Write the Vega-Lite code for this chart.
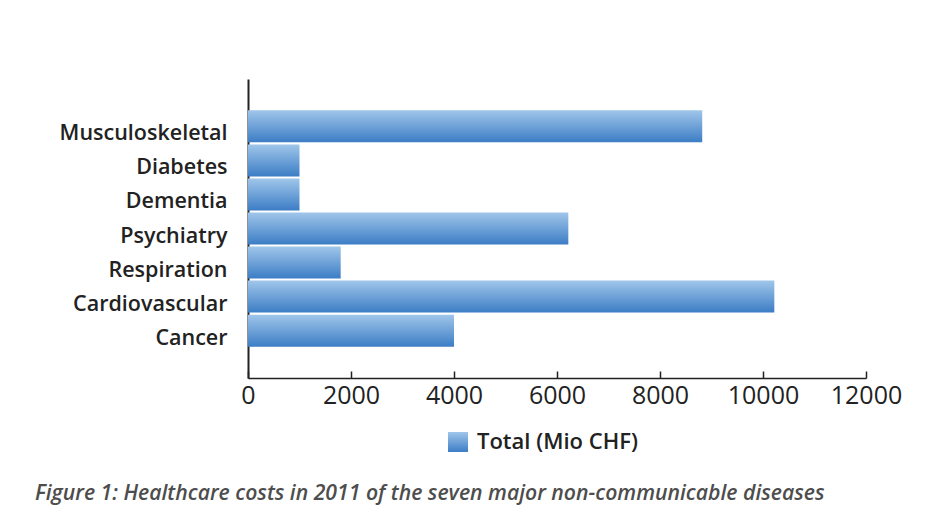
{
  "$schema": "https://vega.github.io/schema/vega-lite/v6.json",
  "autosize": {"type": "none"},
  "width": 618,
  "height": 299,
  "padding": {"left": 248, "top": 79, "right": 67, "bottom": 144},
  "background": "white",
  "data": {
    "values": [
      {"disease": "Musculoskeletal", "cost": 8820},
      {"disease": "Diabetes", "cost": 1000},
      {"disease": "Dementia", "cost": 1000},
      {"disease": "Psychiatry", "cost": 6220},
      {"disease": "Respiration", "cost": 1800},
      {"disease": "Cardiovascular", "cost": 10220},
      {"disease": "Cancer", "cost": 4000}
    ]
  },
  "mark": {
    "type": "bar",
    "strokeWidth": 0,
    "color": {"gradient": "linear", "x1": 0, "y1": 0, "x2": 0, "y2": 1,
      "stops": [{"offset": 0, "color": "#a0c6ea"}, {"offset": 1, "color": "#3c7dc5"}]}
  },
  "encoding": {
    "y": {
      "field": "disease",
      "type": "nominal",
      "sort": null,
      "scale": {"paddingInner": 0.06, "paddingOuter": 0.92},
      "axis": {
        "title": null,
        "ticks": false,
        "labelPadding": 21,
        "labelOffset": 8,
        "labelFont": "Open Sans",
        "labelFontWeight": 600,
        "labelFontSize": 21.5,
        "labelColor": "#222222",
        "domainColor": "#222222",
        "domainWidth": 2
      }
    },
    "x": {
      "field": "cost",
      "type": "quantitative",
      "scale": {"domain": [0, 12000], "nice": false},
      "axis": {
        "title": null,
        "values": [0, 2000, 4000, 6000, 8000, 10000, 12000],
        "format": "d",
        "grid": false,
        "tickSize": -7,
        "tickColor": "#222222",
        "tickWidth": 1.5,
        "domainColor": "#222222",
        "domainWidth": 1.5,
        "labelPadding": 12,
        "labelFont": "Open Sans",
        "labelFontSize": 25,
        "labelColor": "#222222",
        "labelFlush": false
      }
    },
    "opacity": {
      "datum": "Total (Mio CHF)",
      "type": "ordinal",
      "scale": {"range": [1, 1]},
      "legend": {
        "title": null,
        "orient": "none",
        "legendX": 199,
        "legendY": 352,
        "symbolType": "square",
        "symbolSize": 400,
        "symbolStrokeWidth": 0,
        "labelFont": "Open Sans",
        "labelFontWeight": 600,
        "labelFontSize": 22,
        "labelColor": "#222222",
        "labelOffset": 8,
        "labelLimit": 400
      }
    }
  },
  "title": {
    "text": "Figure 1: Healthcare costs in 2011 of the seven major non-communicable diseases",
    "orient": "bottom",
    "anchor": "start",
    "frame": "group",
    "dx": -213,
    "offset": 30,
    "font": "Open Sans",
    "fontStyle": "italic",
    "fontWeight": 600,
    "fontSize": 21.2,
    "color": "#4d4d4d"
  },
  "config": {"view": {"stroke": null}}
}
